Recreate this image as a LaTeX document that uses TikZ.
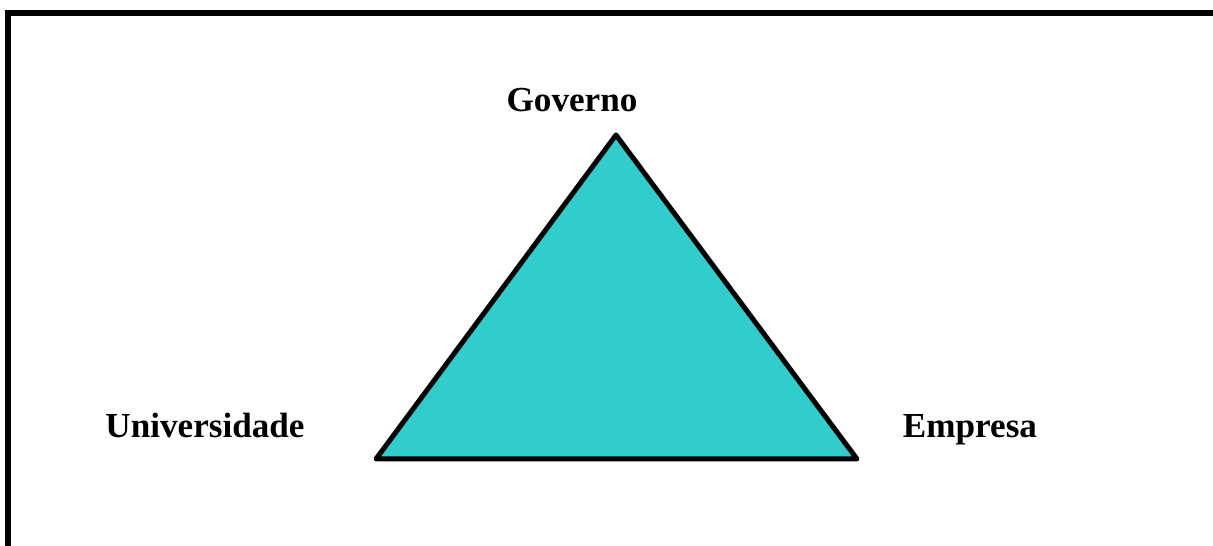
\documentclass[tikz,border=0pt]{standalone}
\usepackage{fontspec}
\setmainfont{Liberation Serif}
\definecolor{tuerkis}{RGB}{51,204,204}
\begin{document}
\begin{tikzpicture}[x=0.02cm, y=-0.02cm, every node/.style={font=\fontsize{20}{24}\selectfont\bfseries, anchor=base}]
        \useasboundingbox (0,0) rectangle (1213,546);
        % Rahmen
        \draw[line width=0.12cm, line join=miter] (8,546) -- (8,13) -- (1213,13);

        % Ecken
        \coordinate (G) at (616,135);
        \coordinate (U) at (376,459);
        \coordinate (E) at (857,459);

        % Dreieck
        \draw[fill=tuerkis, line width=0.1cm, line join=round] (G) -- (U) -- (E) -- cycle;

        % Beschriftung
        \node (gov) at (572,112) {Governo};
        \node (uni) at (205,438) {Universidade};
        \node (emp) at (970,438) {Empresa};
    \end{tikzpicture}
\end{document}
